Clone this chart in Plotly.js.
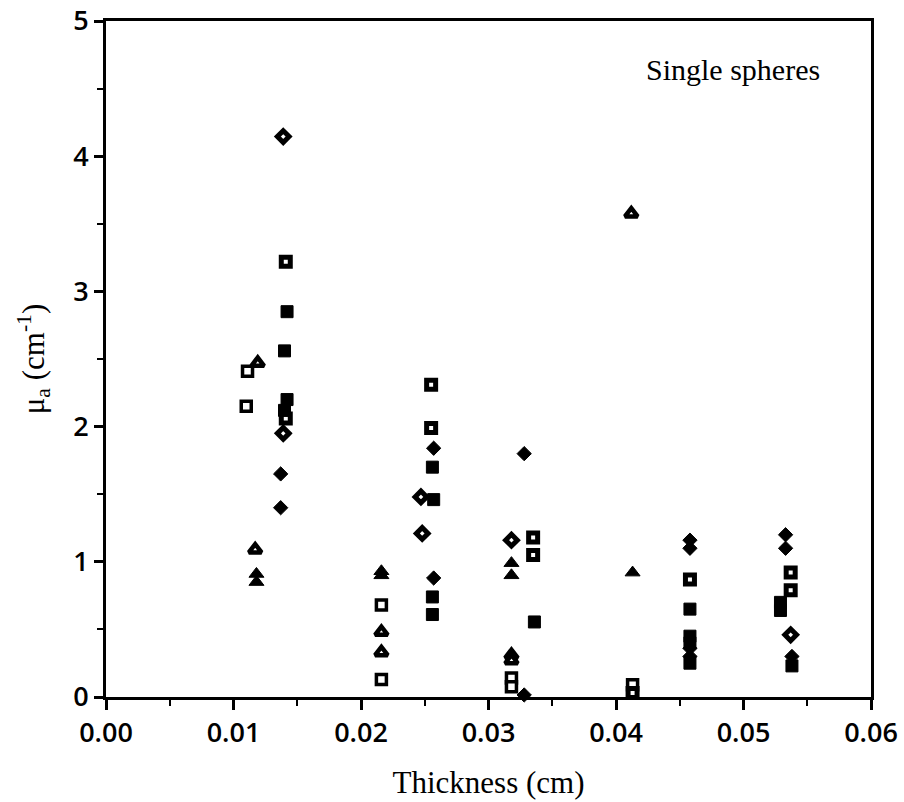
<!DOCTYPE html>
<html>
<head>
<meta charset="utf-8">
<script src="https://cdn.plot.ly/plotly-3.0.1.min.js"></script>
<style>html,body{margin:0;padding:0;background:#fff;}#chart{width:904px;height:802px;}</style>
</head>
<body>
<div id="chart"></div>
<script>
// Open squares
const osX = [0.0111, 0.0110, 0.0216, 0.0216, 0.0318, 0.0318, 0.0413];
const osY = [2.41, 2.15, 0.68, 0.13, 0.14, 0.075, 0.09];
// Dotted squares
const dsX = [0.0141, 0.0141, 0.0255, 0.0255, 0.0335, 0.0335, 0.0413, 0.0458, 0.0537, 0.0537];
const dsY = [3.22, 2.06, 2.31, 1.99, 1.18, 1.05, 0.03, 0.87, 0.92, 0.79];
// Filled squares
const fsX = [0.0142, 0.0140, 0.0142, 0.0140, 0.0256, 0.0257, 0.0256, 0.0256, 0.0336, 0.0458, 0.0458, 0.0458, 0.0458, 0.0529, 0.0529, 0.0538];
const fsY = [2.85, 2.56, 2.20, 2.12, 1.70, 1.46, 0.74, 0.61, 0.555, 0.65, 0.45, 0.40, 0.25, 0.70, 0.64, 0.23];
// Open diamonds
const odX = [0.0139, 0.0139, 0.0247, 0.0248, 0.0318, 0.0537];
const odY = [4.145, 1.95, 1.48, 1.21, 1.16, 0.46];
// Filled diamonds
const fdX = [0.0137, 0.0137, 0.0257, 0.0257, 0.0328, 0.0328, 0.0458, 0.0458, 0.0458, 0.0458, 0.0533, 0.0533, 0.0538];
const fdY = [1.65, 1.40, 1.84, 0.88, 1.80, 0.015, 1.16, 1.10, 0.36, 0.30, 1.20, 1.10, 0.30];
// Open triangles
const otX = [0.0119, 0.0117, 0.0216, 0.0216, 0.0318, 0.0318, 0.0412];
const otY = [2.47, 1.09, 0.48, 0.33, 0.31, 0.27, 3.575];
// Filled triangles
const ftX = [0.0118, 0.0118, 0.0216, 0.0216, 0.0318, 0.0318, 0.0413];
const ftY = [0.91, 0.85, 0.93, 0.90, 0.99, 0.90, 0.92];

const xTicks = [0, 0.01, 0.02, 0.03, 0.04, 0.05, 0.06];
const xTickText = ['0.00', '0.01', '0.02', '0.03', '0.04', '0.05', '0.06'];
const yTicks = [0, 1, 2, 3, 4, 5];
const xMinor = [0.005, 0.015, 0.025, 0.035, 0.045, 0.055];
const yMinor = [0.5, 1.5, 2.5, 3.5, 4.5];

function tr(x, y, symbol, size, fill, lw) {
  return {
    x: x, y: y, type: 'scatter', mode: 'markers', cliponaxis: false,
    hoverinfo: 'x+y', showlegend: false,
    marker: {symbol: symbol, size: size, color: fill, line: {color: '#000', width: lw}}
  };
}

const data = [
  tr(osX, osY, 'square', 10, '#fff', 3.5),
  tr(dsX, dsY, 'square', 9, '#fff', 5),
  tr(fsX, fsY, 'square', 12, '#000', 1),
  tr(odX, odY, 'diamond', 9, '#fff', 5),
  tr(fdX, fdY, 'diamond', 11, '#000', 1),
  tr(otX, otY, 'triangle-up', 11, '#fff', 4.5),
  tr(ftX, ftY, 'triangle-up', 13, '#000', 1)
];

const tickFont = {family: 'Open Sans', size: 27, weight: 600, color: '#000'};

const layout = {
  width: 904, height: 802,
  margin: {l: 106, r: 33, t: 21, b: 105},
  paper_bgcolor: '#fff', plot_bgcolor: '#fff',
  showlegend: false,
  xaxis: {
    range: [0, 0.06], tickvals: xTicks, ticktext: xTickText,
    ticks: 'outside', ticklen: 10, tickwidth: 2.5, tickcolor: '#000',
    minor: {tickvals: xMinor, ticks: 'outside', ticklen: 6, tickwidth: 2, tickcolor: '#000'},
    showline: true, linewidth: 3, linecolor: '#000', mirror: true,
    showgrid: false, zeroline: false,
    tickfont: tickFont,
    title: {text: 'Thickness (cm)', font: {family: 'Liberation Serif', size: 31, color: '#000'}, standoff: 22}
  },
  yaxis: {
    range: [0, 5], tickvals: yTicks,
    ticks: 'outside', ticklen: 9, tickwidth: 2.5, tickcolor: '#000',
    minor: {tickvals: yMinor, ticks: 'outside', ticklen: 6, tickwidth: 2, tickcolor: '#000'},
    showline: true, linewidth: 3, linecolor: '#000', mirror: true,
    showgrid: false, zeroline: false,
    tickfont: tickFont,
    title: {text: 'μ<sub>a</sub> (cm<sup>-1</sup>)', font: {family: 'Liberation Serif', size: 31, color: '#000'}, standoff: 20}
  },
  annotations: [{
    text: 'Single spheres', xref: 'paper', yref: 'paper', x: 0.82, y: 0.928,
    xanchor: 'center', yanchor: 'middle', showarrow: false,
    font: {family: 'Liberation Serif', size: 30, color: '#000'}
  }]
};

Plotly.newPlot('chart', data, layout, {displayModeBar: false});
</script>
</body>
</html>
